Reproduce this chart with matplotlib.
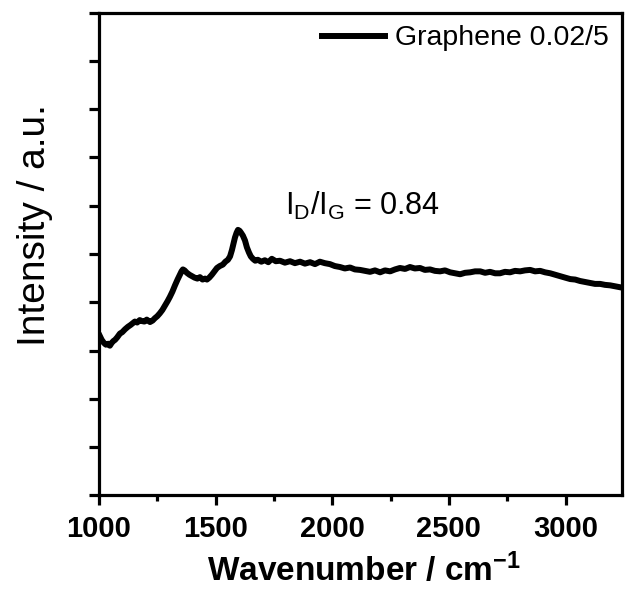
import matplotlib
matplotlib.use("Agg")
import matplotlib.pyplot as plt
from matplotlib.ticker import MultipleLocator, NullFormatter

plt.rcParams['font.family'] = ['Liberation Sans', 'DejaVu Sans']
plt.rcParams['mathtext.fontset'] = 'custom'
plt.rcParams['mathtext.rm'] = 'Liberation Sans'
plt.rcParams['mathtext.bf'] = 'Liberation Sans:bold'
plt.rcParams['mathtext.default'] = 'regular'

# Raman spectrum (wavenumber, intensity in tick units)
wavenumber = [1004, 1012, 1021, 1030, 1040, 1047, 1055, 1063, 1069, 1078, 1090, 1100,
              1112, 1124, 1136, 1146, 1154, 1164, 1175, 1184, 1195, 1205, 1219, 1230,
              1240, 1250, 1261, 1272, 1283, 1294, 1304, 1315, 1326, 1337, 1347, 1354,
              1360, 1367, 1377, 1388, 1399, 1410, 1422, 1433, 1444, 1455, 1463, 1473,
              1484, 1495, 1506, 1518, 1531, 1542, 1553, 1562, 1570, 1577, 1583, 1590,
              1596, 1603, 1609, 1617, 1626, 1634, 1643, 1651, 1660, 1670, 1681, 1696,
              1711, 1726, 1741, 1758, 1776, 1797, 1819, 1840, 1862, 1883, 1905, 1926,
              1947, 1968, 1990, 2011, 2033, 2054, 2076, 2097, 2119, 2140, 2162, 2183,
              2205, 2226, 2248, 2269, 2290, 2312, 2333, 2354, 2376, 2397, 2419, 2440,
              2462, 2483, 2505, 2526, 2548, 2569, 2591, 2612, 2634, 2655, 2676, 2698,
              2719, 2740, 2762, 2783, 2805, 2826, 2848, 2869, 2891, 2912, 2934, 2955,
              2977, 2998, 3020, 3041, 3062, 3084, 3105, 3126, 3148, 3169, 3191, 3212,
              3234]
intensity = [3.30, 3.22, 3.16, 3.12, 3.14, 3.10, 3.16, 3.20, 3.22, 3.27, 3.35, 3.38,
             3.44, 3.49, 3.53, 3.57, 3.60, 3.58, 3.63, 3.61, 3.60, 3.64, 3.59, 3.62,
             3.67, 3.71, 3.77, 3.84, 3.93, 4.02, 4.11, 4.22, 4.35, 4.47, 4.57, 4.64,
             4.68, 4.66, 4.61, 4.57, 4.54, 4.51, 4.49, 4.52, 4.47, 4.49, 4.47, 4.51,
             4.57, 4.64, 4.71, 4.75, 4.78, 4.84, 4.88, 4.95, 5.08, 5.22, 5.34, 5.44,
             5.50, 5.48, 5.44, 5.38, 5.28, 5.14, 5.03, 4.95, 4.90, 4.86, 4.88, 4.84,
             4.87, 4.83, 4.90, 4.85, 4.86, 4.82, 4.85, 4.81, 4.84, 4.80, 4.83, 4.79,
             4.84, 4.81, 4.79, 4.75, 4.73, 4.70, 4.72, 4.68, 4.67, 4.65, 4.63, 4.66,
             4.62, 4.66, 4.64, 4.68, 4.71, 4.69, 4.73, 4.70, 4.71, 4.67, 4.68, 4.65,
             4.64, 4.66, 4.62, 4.60, 4.58, 4.61, 4.62, 4.64, 4.64, 4.61, 4.63, 4.60,
             4.60, 4.63, 4.62, 4.65, 4.64, 4.66, 4.67, 4.64, 4.65, 4.62, 4.60, 4.57,
             4.54, 4.51, 4.48, 4.47, 4.44, 4.42, 4.40, 4.38, 4.38, 4.36, 4.35, 4.33,
             4.31]

fig = plt.figure(figsize=(6.26, 6.04), dpi=100)
ax = fig.add_axes([0.158, 0.180, 0.835, 0.799])

ax.plot(wavenumber, intensity, color='black', lw=4.3, label='Graphene 0.02/5')

ax.set_xlim(1000, 3240)
ax.set_ylim(0, 10)
ax.xaxis.set_major_locator(MultipleLocator(500))
ax.xaxis.set_minor_locator(MultipleLocator(250))
ax.yaxis.set_major_locator(MultipleLocator(1))
ax.yaxis.set_major_formatter(NullFormatter())

for s in ax.spines.values():
    s.set_linewidth(2.3)
ax.tick_params(axis='both', which='major', direction='out', length=7, width=2.3)
ax.tick_params(axis='x', which='minor', direction='out', length=4, width=2.3)
ax.tick_params(axis='x', labelsize=21, pad=7)
for lab in ax.get_xticklabels():
    lab.set_fontweight('bold')

ax.set_xlabel('Wavenumber / cm$^{\\mathbf{-1}}$', fontsize=24, fontweight='bold')
ax.xaxis.set_label_coords(0.507, -0.118)
ax.set_ylabel('Intensity / a.u.', fontsize=28)
ax.yaxis.set_label_coords(-0.088, 0.56)

ax.text(0.505, 0.60, 'I$_\\mathrm{D}$/I$_\\mathrm{G}$ = 0.84', transform=ax.transAxes,
        fontsize=22, ha='center', va='center')

leg = ax.legend(loc='upper right', frameon=False, fontsize=20.5, handlelength=2.2,
                borderpad=0, borderaxespad=0.45, handletextpad=0.35)

fig.savefig('out.png', dpi=100)
